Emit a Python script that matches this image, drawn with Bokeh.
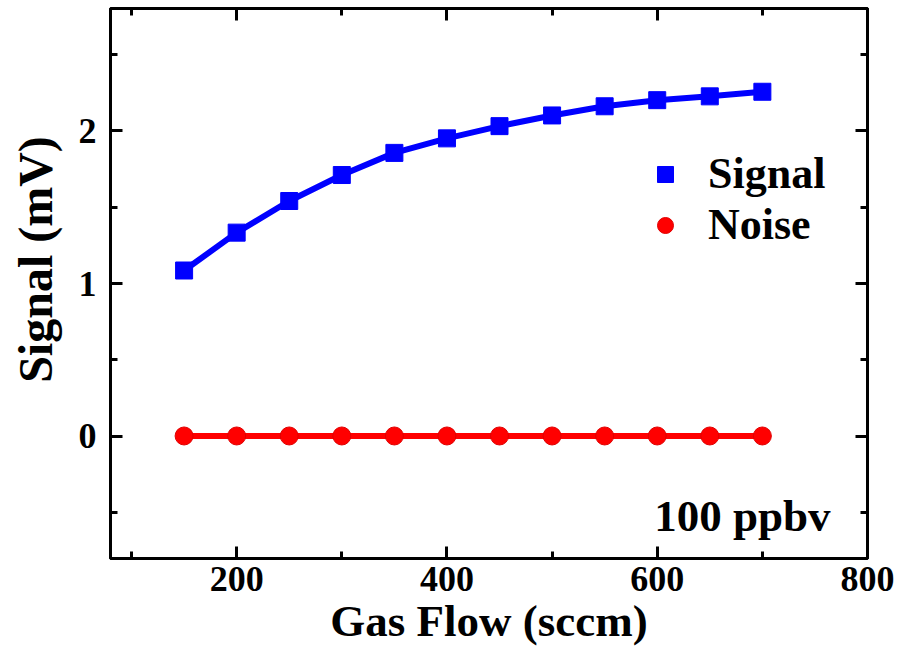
from bokeh.plotting import figure
from bokeh.models import LinearAxis, Range1d, Legend, LegendItem, Label, FixedTicker
from bokeh.embed import file_html
from bokeh.resources import INLINE

gas_flow = [150, 200, 250, 300, 350, 400, 450, 500, 550, 600, 650, 700]
signal = [1.085, 1.333, 1.54, 1.71, 1.855, 1.95, 2.03, 2.10, 2.16, 2.20, 2.225, 2.255]
noise = [0.002, 0.002, 0.002, 0.002, 0.002, 0.002, 0.002, 0.002, 0.002, 0.002, 0.002, 0.002]
x_ticks = [200, 400, 600, 800]
x_minor = [100, 300, 500, 700]
y_ticks = [0, 1, 2]
y_minor = [-0.5, 0.5, 1.5, 2.5]

FONT = "Liberation Serif"
NB = "\u00a0"

p = figure(width=898, height=659, output_backend="svg", toolbar_location=None,
           x_range=Range1d(80, 800), y_range=Range1d(-0.8, 2.8),
           min_border_left=110, min_border_right=31, min_border_top=8, min_border_bottom=101,
           x_axis_label="Gas Flow (sccm)", y_axis_label=NB * 4 + "Signal (mV)")
p.grid.visible = False
p.outline_line_color = "black"
p.outline_line_width = 3
p.background_fill_color = "white"
p.border_fill_color = "white"

def style(ax):
    ax.axis_line_width = 3
    ax.axis_line_color = "black"
    ax.major_tick_in = 12
    ax.major_tick_out = 0
    ax.minor_tick_in = 7
    ax.minor_tick_out = 0
    ax.major_tick_line_width = 3
    ax.minor_tick_line_width = 3
    ax.major_label_text_font = FONT
    ax.major_label_text_font_style = "bold"
    ax.major_label_text_font_size = "36px"
    ax.major_label_text_color = "black"
    ax.axis_label_text_font = FONT
    ax.axis_label_text_font_style = "bold"
    ax.axis_label_text_color = "black"

p.xaxis.ticker = FixedTicker(ticks=x_ticks, minor_ticks=x_minor)
p.yaxis.ticker = FixedTicker(ticks=y_ticks, minor_ticks=y_minor)
style(p.xaxis[0])
style(p.yaxis[0])
p.xaxis.axis_label_text_font_size = "45px"
p.yaxis.axis_label_text_font_size = "48px"
p.xaxis.major_label_standoff = 8
p.yaxis.major_label_standoff = 14
p.xaxis.axis_label_standoff = 2
p.yaxis.axis_label_standoff = 14

top = LinearAxis(ticker=FixedTicker(ticks=x_ticks, minor_ticks=x_minor),
                 major_label_overrides={t: "" for t in x_ticks})
right = LinearAxis(ticker=FixedTicker(ticks=y_ticks, minor_ticks=y_minor),
                   major_label_overrides={t: "" for t in y_ticks})
for ax in (top, right):
    style(ax)
    ax.major_label_standoff = 0
p.add_layout(top, "above")
p.add_layout(right, "right")

p.line(gas_flow, signal, line_color="#0000FF", line_width=6, line_join="round")
s_r = p.scatter(gas_flow, signal, marker="square", size=17, fill_color="#0000FF", line_color="#0000FF")
p.line(gas_flow, noise, line_color="#FF0000", line_width=6, line_join="round")
n_r = p.scatter(gas_flow, noise, marker="circle", size=18, fill_color="#FF0000", line_color="#E00000")

legend = Legend(items=[LegendItem(label="Signal", renderers=[s_r]),
                       LegendItem(label="Noise", renderers=[n_r])],
                location=(535, 308), border_line_color=None, background_fill_alpha=0,
                label_text_font=FONT, label_text_font_style="bold", label_text_font_size="44px",
                label_text_color="black",
                glyph_width=40, glyph_height=40, label_standoff=23, spacing=0, padding=5)
p.add_layout(legend, "center")

lab = Label(x=720, y=43, x_units="screen", y_units="screen", text="100 ppbv",
            text_font=FONT, text_font_style="bold", text_font_size="45px",
            text_align="right", text_baseline="alphabetic", text_color="black")
p.add_layout(lab)

open("out.html", "w").write(file_html(p, INLINE))
